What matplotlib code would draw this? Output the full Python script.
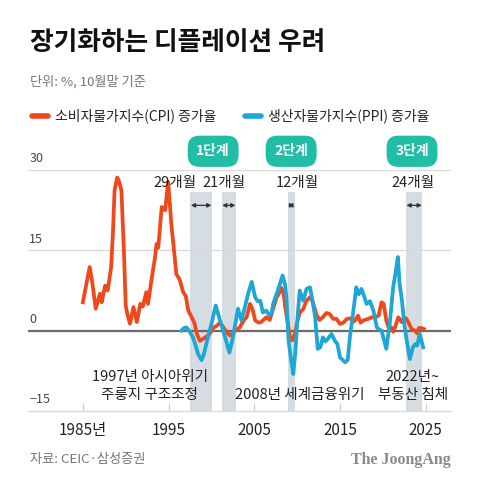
import matplotlib.pyplot as plt

plt.rcParams['font.family'] = ['Noto Sans CJK KR', 'DejaVu Sans']

# CPI (year, %)
cpi_years = [1985.0, 1985.5, 1985.8, 1986.1, 1986.5, 1987.0, 1987.2, 1987.6, 1987.9,
             1988.3, 1988.5, 1988.7, 1989.0, 1989.2, 1989.5, 1989.8, 1990.0, 1990.2,
             1990.5, 1990.9, 1991.3, 1991.7, 1992.0, 1992.4, 1992.6, 1993.0, 1993.4,
             1993.6, 1993.8, 1994.2, 1994.6, 1994.95, 1995.35, 1995.7, 1995.9, 1996.3,
             1996.7, 1997.0, 1997.3, 1997.7, 1998.0, 1998.3, 1998.65, 1999.05, 1999.5,
             1999.8, 2000.2, 2000.6, 2001.0, 2001.4, 2001.8, 2002.15, 2002.5, 2002.75,
             2003.3, 2003.8, 2004.1, 2004.5, 2004.8, 2005.1, 2005.5, 2005.8, 2006.4,
             2006.8, 2007.2, 2007.6, 2007.9, 2008.15, 2008.4, 2008.6, 2008.9, 2009.2,
             2009.45, 2009.75, 2010.0, 2010.3, 2010.7, 2011.1, 2011.5, 2011.8, 2012.25,
             2012.6, 2013.0, 2013.4, 2013.8, 2014.2, 2014.6, 2015.0, 2015.4, 2015.8,
             2016.2, 2016.5, 2016.8, 2017.1, 2017.4, 2017.7, 2018.3, 2018.7, 2019.1,
             2019.5, 2019.85, 2020.1, 2020.4, 2020.7, 2021.0, 2021.2, 2021.5, 2021.8,
             2022.2, 2022.5, 2022.75, 2023.0, 2023.35, 2023.75, 2024.0, 2024.2, 2024.5,
             2024.8]
cpi_vals = [5.3, 9.5, 11.9, 9.0, 4.1, 6.9, 5.3, 8.4, 7.5,
            11.9, 18.0, 26.2, 28.6, 28.0, 26.2, 14.4, 4.7, 3.0,
            1.3, 4.4, 1.6, 5.0, 4.5, 7.2, 5.0, 9.4, 13.5,
            16.2, 15.5, 23.1, 22.5, 27.8, 19.4, 14.0, 10.6, 9.5,
            7.2, 6.5, 3.75, 2.5, 1.5, -0.6, -1.9, -1.5, -1.0,
            -0.6, 0.5, 0.9, 1.5, 0.6, -0.3, -0.9, -0.5, 0.0,
            0.6, 2.0, 2.5, 5.0, 4.0, 1.9, 1.5, 1.6, 2.5,
            2.0, 4.1, 6.2, 7.0, 8.0, 7.2, 4.5, 1.5, -1.5,
            -1.8, -0.5, 1.5, 3.4, 4.0, 5.6, 6.25, 5.5, 3.0,
            2.0, 2.5, 3.3, 3.1, 2.2, 2.2, 1.25, 1.5, 2.2,
            2.3, 1.6, 2.0, 2.8, 1.5, 1.9, 2.2, 2.5, 2.5,
            2.8, 5.3, 5.0, 1.9, 0.5, 0.6, -0.2, 1.0, 2.5,
            1.6, 2.5, 2.2, 1.5, 0.3, 0.0, -0.5, 0.5, 0.5,
            0.3]

# PPI (year, %)
ppi_years = [1996.5, 1996.8, 1997.1, 1997.5, 1997.85, 1998.2, 1998.45, 1998.85, 1999.1,
             1999.4, 1999.7, 2000.0, 2000.5, 2001.0, 2001.6, 2002.1, 2002.5, 2003.1,
             2003.5, 2003.9, 2004.3, 2004.7, 2005.1, 2005.4, 2005.7, 2006.0, 2006.4,
             2006.7, 2007.0, 2007.2, 2007.8, 2008.3, 2008.6, 2008.75, 2009.0, 2009.3,
             2009.55, 2009.8, 2010.0, 2010.3, 2010.7, 2011.1, 2011.5, 2011.8, 2012.1,
             2012.4, 2012.7, 2013.0, 2013.3, 2013.6, 2014.0, 2014.4, 2014.7, 2015.0,
             2015.6, 2015.9, 2016.15, 2016.5, 2016.9, 2017.2, 2017.5, 2017.8, 2018.1,
             2018.5, 2018.9, 2019.3, 2019.6, 2019.85, 2020.4, 2020.8, 2021.2, 2021.5,
             2021.75, 2021.95, 2022.2, 2022.5, 2022.8, 2023.15, 2023.5, 2023.8, 2024.0,
             2024.3, 2024.7]
ppi_vals = [0.0, 0.5, 0.6, -0.3, -1.25, -3.0, -4.4, -5.5, -4.5,
            -2.5, -0.5, 1.25, 4.7, 1.9, -1.25, -4.1, -1.25, 4.1,
            1.9, 4.4, 7.0, 9.1, 6.25, 5.5, 5.6, 3.4, 3.75,
            3.0, 3.1, 5.0, 7.8, 10.3, 8.5, 6.25, -1.9, -5.5,
            -8.1, -3.75, 1.5, 7.5, 5.6, 7.8, 8.1, 5.5, 2.5,
            -3.4, -3.1, -1.25, -2.0, -1.5, -0.6, -1.9, -2.5, -5.0,
            -5.9, -5.5, -1.25, 3.0, 8.1, 6.8, 7.8, 6.5, 5.0,
            5.5, 3.75, 0.6, 0.2, 0.0, -3.4, 1.25, 8.1, 11.0,
            13.75, 8.75, 6.0, 1.25, -2.0, -5.3, -3.1, -2.5, -2.8,
            -0.6, -3.1]

# deflation phases: (start, end), months label, badge label
band_spans = [(1997.55, 2000.05), (2001.2, 2002.85), (2008.9, 2009.7), (2022.7, 2024.6)]
band_months = ['29개월', '21개월', '12개월', '24개월']
month_label_x = [1995.7, 2001.5, 2010.0, 2023.5]
stage_labels = ['1단계', '2단계', '3단계']
stage_x = [2000.2, 2009.3, 2023.4]

x_ticks = [1985, 1995, 2005, 2015, 2025]
x_ticklabels = ['1985년', '1995', '2005', '2015', '2025']
y_levels = [30, 15, 0, -15]
y_labels = ['30', '15', '0', '\u221215']

ORANGE = '#f0481b'
BLUE = '#1ea6d6'
TEAL = '#20bfa5'
BAND = '#d5dde3'
DARK = '#222222'

fig = plt.figure(figsize=(4.8, 4.87), dpi=100)
ax = fig.add_axes([28 / 480, 76 / 487, 423 / 480, 241 / 487])
ax.set_xlim(1978.6, 2027.95)
ax.set_ylim(-15, 30)
for s in ax.spines.values():
    s.set_visible(False)

# bands
for x0, x1 in band_spans:
    ax.axvspan(x0, x1, ymin=0, ymax=0.91, color=BAND, lw=0, zorder=0)

# grid lines
ax.axhline(30, color='#d8d8d8', lw=0.9, zorder=1)
ax.axhline(15, color='#d8d8d8', lw=0.9, zorder=1)
ax.axhline(-15, color='#d8d8d8', lw=0.9, zorder=1, clip_on=False)
ax.axhline(0, color='#6b6b6b', lw=1.6, zorder=2)

for v, lab in zip(y_levels, y_labels):
    ax.text(1978.75, v + 0.9, lab, fontsize=9, color='#444444', ha='left', va='bottom')

ax.set_yticks([])
ax.set_xticks(x_ticks)
ax.set_xticklabels(x_ticklabels, fontsize=11, color=DARK)
ax.tick_params(axis='x', direction='in', length=6, width=0.8, color='#cfcfcf', pad=8)

ax.plot(cpi_years, cpi_vals, color=ORANGE, lw=2.7, solid_joinstyle='round', zorder=3)
ax.plot(ppi_years, ppi_vals, color=BLUE, lw=2.7, solid_joinstyle='round', zorder=4)

# arrows and month labels
for (x0, x1), lab, lx in zip(band_spans, band_months, month_label_x):
    ax.annotate('', xy=(x0 + 0.05, 23.4), xytext=(x1 - 0.05, 23.4),
                arrowprops=dict(arrowstyle='<|-|>', color='#333333', lw=0.9,
                                mutation_scale=6, shrinkA=0, shrinkB=0))
    ax.text(lx, 27.6, lab, fontsize=10.5, color=DARK, ha='center', va='center')

for lab, sx in zip(stage_labels, stage_x):
    ax.text(sx, 33.5, lab, fontsize=10, fontweight='bold', color='white',
            ha='center', va='center', clip_on=False,
            bbox=dict(boxstyle='round,pad=0.62,rounding_size=0.85', fc=TEAL, ec='none'))

# event notes
ax.text(1992.8, -8.6, '1997년 아시아위기', fontsize=10.5, color=DARK, ha='center', va='center')
ax.text(1992.8, -12.0, '주룽지 구조조정', fontsize=10.5, color=DARK, ha='center', va='center')
ax.text(2010.3, -12.0, '2008년 세계금융위기', fontsize=10.5, color=DARK, ha='center', va='center')
ax.text(2023.5, -8.6, '2022년~', fontsize=10.5, color=DARK, ha='center', va='center')
ax.text(2023.5, -12.0, '부동산 침체', fontsize=10.5, color=DARK, ha='center', va='center')

# header
fig.text(30 / 480, 1 - 43 / 487, '장기화하는 디플레이션 우려', fontsize=18.5, fontweight='bold',
         color='#111111', ha='left', va='center')
fig.text(30 / 480, 1 - 82 / 487, '단위: %, 10월말 기준', fontsize=9.5, color='#777777',
         ha='left', va='center')

# legend
fig.add_artist(plt.Line2D([32 / 480, 48 / 480], [1 - 116 / 487] * 2, color=ORANGE, lw=4,
                          solid_capstyle='round'))
fig.text(55 / 480, 1 - 116 / 487, '소비자물가지수(CPI) 증가율', fontsize=10, color=DARK,
         ha='left', va='center')
fig.add_artist(plt.Line2D([245 / 480, 261 / 480], [1 - 116 / 487] * 2, color=BLUE, lw=4,
                          solid_capstyle='round'))
fig.text(268 / 480, 1 - 116 / 487, '생산자물가지수(PPI) 증가율', fontsize=10, color=DARK,
         ha='left', va='center')

# footer
fig.text(30 / 480, 1 - 460 / 487, '자료: CEIC·삼성증권', fontsize=9.5, color='#777777',
         ha='left', va='center')
fig.text(451 / 480, 1 - 460 / 487, 'The JoongAng', fontsize=11.5, fontweight='bold',
         family='Liberation Serif', color='#8a8a8a', ha='right', va='center')

fig.savefig('out.png', dpi=100)
